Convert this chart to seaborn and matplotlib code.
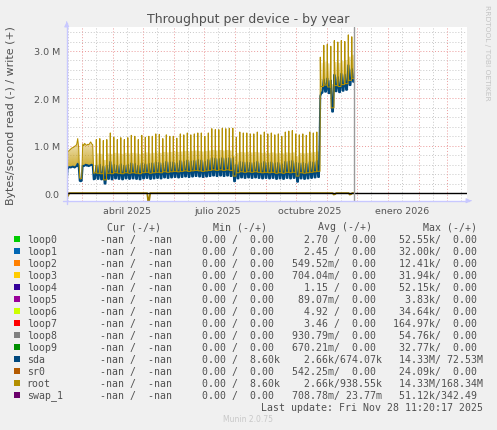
import numpy as np
import pandas as pd
import matplotlib
matplotlib.use('Agg')
import matplotlib.pyplot as plt
from matplotlib.patches import Rectangle
import seaborn as sns

W, H = 497, 431

start = pd.Timestamp('2025-02-14')
last_update = pd.Timestamp('2025-11-28 11:20:17')
n_days = 400

# write throughput (MB/s) one value per day before the twice-weekly pattern begins
root_early = [0.50, 0.87, 0.89, 0.91, 0.93, 0.95, 0.96, 0.97, 0.99, 1.00, 1.03, 1.15, 0.95, 0.32, 0.30,
              0.31, 1.04, 1.00, 1.05, 1.02, 1.01, 1.03, 1.02, 1.05, 1.08, 1.04, 1.02, 0.42, 0.43]
sda_early = [0.22, 0.55, 0.54, 0.55, 0.54, 0.55, 0.56, 0.55, 0.54, 0.56, 0.57, 0.62, 0.55, 0.26, 0.25,
             0.26, 0.58, 0.57, 0.58, 0.60, 0.58, 0.59, 0.57, 0.58, 0.59, 0.60, 0.58, 0.29, 0.30]

# twice-weekly spikes, first one on day 29.6
first_spike_day = 29.6
spike_gap_days = 3.5

root_peak = [1.13, 1.15, 1.11, 1.13, 1.27, 1.18, 1.13, 1.17, 1.13, 1.17, 1.22, 1.20, 1.13, 1.22, 1.18,
             1.20, 1.20, 1.25, 1.24,
             1.15, 1.23, 1.20, 1.20, 1.16, 1.25, 1.23, 1.27, 1.23, 1.25, 1.27, 1.27, 1.20, 1.27, 1.36,
             1.34, 1.34, 1.37, 1.36, 1.37, 1.37,
             1.18, 1.29, 1.27, 1.27, 1.25, 1.25, 1.29,
             1.23, 1.29, 1.25, 1.27, 1.23, 1.25, 1.20, 1.29, 1.31, 1.32, 1.25, 1.23, 1.25, 1.22, 1.29,
             1.27, 1.29,
             2.87, 3.12, 3.14, 3.10, 3.22, 3.19, 3.22, 3.20, 3.34, 3.30]
root_low = [0.42, 0.41, 0.28, 0.42, 0.41, 0.43, 0.42, 0.41, 0.43, 0.42, 0.43, 0.42, 0.41, 0.43, 0.44,
            0.42, 0.43, 0.44, 0.43,
            0.45, 0.44, 0.45, 0.46, 0.45, 0.46, 0.47, 0.46, 0.47, 0.48, 0.47, 0.46, 0.47, 0.48, 0.49,
            0.48, 0.49, 0.48, 0.49, 0.48, 0.36,
            0.43, 0.45, 0.44, 0.45, 0.44, 0.45, 0.44,
            0.43, 0.44, 0.43, 0.44, 0.42, 0.43, 0.42, 0.44, 0.43, 0.44, 0.36, 0.43, 0.42, 0.43, 0.44,
            0.45, 0.46,
            2.25, 2.28, 2.24, 1.80, 2.27, 2.25, 2.29, 2.31, 2.38, 2.42]
sda_peak = [0.58, 0.60, 0.56, 0.58, 0.66, 0.60, 0.58, 0.61, 0.58, 0.60, 0.63, 0.62, 0.58, 0.63, 0.61,
            0.62, 0.63, 0.65, 0.64,
            0.63, 0.66, 0.65, 0.65, 0.63, 0.68, 0.66, 0.69, 0.67, 0.68, 0.70, 0.69, 0.66, 0.70, 0.74,
            0.73, 0.72, 0.74, 0.73, 0.74, 0.74,
            0.60, 0.66, 0.65, 0.65, 0.64, 0.64, 0.66,
            0.63, 0.66, 0.64, 0.65, 0.63, 0.64, 0.61, 0.66, 0.67, 0.68, 0.64, 0.63, 0.64, 0.62, 0.66,
            0.65, 0.68,
            2.05, 2.40, 2.42, 2.38, 2.50, 2.45, 2.52, 2.50, 2.70, 2.62]
sda_low = [0.30, 0.29, 0.20, 0.30, 0.29, 0.31, 0.30, 0.29, 0.31, 0.30, 0.31, 0.30, 0.29, 0.31, 0.32,
           0.30, 0.31, 0.32, 0.31,
           0.33, 0.32, 0.33, 0.34, 0.33, 0.34, 0.35, 0.34, 0.35, 0.36, 0.35, 0.34, 0.35, 0.36, 0.37,
           0.36, 0.37, 0.36, 0.37, 0.36, 0.25,
           0.31, 0.33, 0.32, 0.33, 0.32, 0.33, 0.32,
           0.31, 0.32, 0.31, 0.32, 0.30, 0.31, 0.30, 0.32, 0.31, 0.32, 0.24, 0.31, 0.30, 0.31, 0.32,
           0.33, 0.34,
           2.12, 2.14, 2.11, 1.72, 2.15, 2.13, 2.16, 2.18, 2.28, 2.35]

# read side (drawn negative)
read_days = [0.0, 0.5, 1.5, 2.5, 80.5, 81.5, 82.5, 83.5, 266.0, 267.0, 268.5, 269.5,
             282.0, 283.0, 284.5, 285.5, 287.4]
read_vals = [-0.02, -0.08, -0.05, 0.0, 0.0, -0.17, -0.15, 0.0, 0.0, -0.03, -0.02, 0.0,
             0.0, -0.03, -0.02, 0.0, 0.0]

month_labels = ['abril 2025', 'julio 2025', 'octubre 2025', 'enero 2026']
label_months = ['2025-04-15', '2025-07-15', '2025-10-15', '2026-01-15']

names = ['loop0', 'loop1', 'loop2', 'loop3', 'loop4', 'loop5', 'loop6', 'loop7', 'loop8',
         'loop9', 'sda', 'sr0', 'root', 'swap_1']
colors = ['#00CC00', '#0066B3', '#FF8000', '#FFCC00', '#330099', '#990099', '#CCFF00', '#FF0000',
          '#808080', '#008F00', '#00487D', '#B35A00', '#B38F00', '#6B006B']
cur_col = ['  -nan /  -nan '] * 14
min_col = ['  0.00 /  0.00 '] * 10 + ['  0.00 /  8.60k', '  0.00 /  0.00 ',
                                      '  0.00 /  8.60k', '  0.00 /  0.00 ']
avg_col = ['  2.70 /  0.00 ', '  2.45 /  0.00 ', '549.52m/  0.00 ', '704.04m/  0.00 ',
           '  1.15 /  0.00 ', ' 89.07m/  0.00 ', '  4.92 /  0.00 ', '  3.46 /  0.00 ',
           '930.79m/  0.00 ', '670.21m/  0.00 ', '  2.66k/674.07k', '542.25m/  0.00 ',
           '  2.66k/938.55k', '708.78m/ 23.77m']
max_col = [' 52.55k/  0.00 ', ' 32.00k/  0.00 ', ' 12.41k/  0.00 ', ' 31.94k/  0.00 ',
           ' 52.15k/  0.00 ', '  3.83k/  0.00 ', ' 34.64k/  0.00 ', '164.97k/  0.00 ',
           ' 54.76k/  0.00 ', ' 32.77k/  0.00 ', ' 14.33M/ 72.53M', ' 24.09k/  0.00 ',
           ' 14.33M/168.34M', ' 51.12k/342.49 ']


def day_of(ts):
    return (pd.Timestamp(ts) - start) / pd.Timedelta(days=1)


end_day = day_of(last_update)


def build(early, peak, low, half):
    days = list(np.arange(len(early), dtype=float))
    vals = list(early)
    prev = early[-1]
    for k, (p, lo) in enumerate(zip(peak, low)):
        s = first_spike_day + k * spike_gap_days
        days += [s - half, s, s + half]
        vals += [prev, p, lo]
        prev = lo
    days.append(end_day)
    vals.append(prev)
    return np.array(days), np.array(vals)


t_root, v_root = build(root_early, root_peak, root_low, 0.3)
t_sda, v_sda = build(sda_early, sda_peak, sda_low, 1.3)
band = [v + (0.42 if v < 1.5 else 0.5) for v in root_low]
t_env, v_env = build(root_early, root_peak, band, 0.3)

sns.set_theme(style='white')
plt.rcParams['font.family'] = ['DejaVu Sans']

fig = plt.figure(figsize=(W / 100, H / 100), dpi=100, facecolor='#F0F0F0')


def fx(x):
    return x / W


def fy(y):
    return 1 - y / H


ax_l, ax_r, ax_t, ax_b = 66.7, 466.7, 28.3, 201.7
ax = fig.add_axes([fx(ax_l), fy(ax_b), (ax_r - ax_l) / W, (ax_b - ax_t) / H])
ax.set_facecolor('white')
for sp in ax.spines.values():
    sp.set_visible(False)

ymin, ymax = -0.16, 3.5

# grid
month_starts = pd.date_range('2025-03-01', '2026-03-01', freq='MS')
mid_months = pd.date_range('2025-02-01', '2026-03-01', freq='MS') + pd.Timedelta(days=14)
for d in mid_months:
    ax.axvline(day_of(d), color='#c8c8c8', lw=0.7, ls=(0, (1, 2)), zorder=0)
for v in np.arange(0.2, 3.5, 0.2):
    if abs(v - round(v)) > 1e-6:
        ax.axhline(v, color='#c8c8c8', lw=0.7, ls=(0, (1, 2)), zorder=0)
for d in month_starts:
    ax.axvline(day_of(d), color='#eb9a9a', lw=0.7, ls=(0, (1, 2)), zorder=0.5)
for v in [1, 2, 3]:
    ax.axhline(v, color='#eb9a9a', lw=0.7, ls=(0, (1, 2)), zorder=0.5)

# light gradient between sda and root
xs = np.unique(np.concatenate([t_sda, t_env]))
sda_f = np.interp(xs, t_sda, v_sda)
env_f = np.interp(xs, t_env, v_env)
poly = ax.fill_between(xs, sda_f, env_f, color='none', lw=0)
ny, nx = 600, 1400
yy = np.linspace(ymin, ymax, ny)
xg = np.linspace(xs[0], xs[-1], nx)
base = np.interp(xg, xs, sda_f)
rel = (yy[:, None] - base[None, :]) / 0.8
rgba = np.zeros((ny, nx, 4))
rgba[..., 0], rgba[..., 1], rgba[..., 2] = 0.78, 0.62, 0.06
rgba[..., 3] = 0.85 * np.clip(1 - rel, 0.14, 1)
im = ax.imshow(rgba, extent=[xs[0], xs[-1], ymin, ymax], origin='lower', aspect='auto',
               zorder=2, interpolation='bilinear')
im.set_clip_path(poly.get_paths()[0], transform=ax.transData)

sns.lineplot(x=t_sda, y=v_sda, ax=ax, color='#00487D', lw=1.4, estimator=None, sort=False, zorder=3)
sns.lineplot(x=t_root, y=v_root, ax=ax, color='#B38F00', lw=0.75, estimator=None, sort=False, zorder=4)
sns.lineplot(x=read_days, y=read_vals, ax=ax, color='#9c7d00', lw=1.3, estimator=None, sort=False,
             zorder=4)

ax.axhline(0, color='black', lw=1.0, zorder=5)
ax.axvline(end_day, color='#9a9a9a', lw=1.0, zorder=5)

ax.set_xlim(0, n_days)
ax.set_ylim(ymin, ymax)
ax.set_xticks([day_of(d) for d in label_months])
ax.set_xticklabels(month_labels)
ax.set_yticks([0, 1, 2, 3])
ax.set_yticklabels(['0.0', '1.0 M', '2.0 M', '3.0 M'])
ax.tick_params(axis='both', length=0, labelsize=6.8, labelcolor='#555555')
ax.tick_params(axis='x', pad=4)
ax.tick_params(axis='y', pad=5)
ax.grid(False)

# axis arrows
ax_col = '#c8c8ff'
fig.add_artist(plt.Line2D([fx(ax_l), fx(ax_l)], [fy(205), fy(24)], color=ax_col, lw=1.0))
fig.add_artist(plt.Line2D([fx(63), fx(469)], [fy(ax_b), fy(ax_b)], color=ax_col, lw=1.0))
ax.annotate('', xy=(ax_l, H - 20), xytext=(ax_l, H - 26), xycoords='figure pixels',
            arrowprops=dict(arrowstyle='-|>', color=ax_col, lw=0.8, mutation_scale=7))
ax.annotate('', xy=(474, H - ax_b), xytext=(468, H - ax_b), xycoords='figure pixels',
            arrowprops=dict(arrowstyle='-|>', color=ax_col, lw=0.8, mutation_scale=7))

txt = '#505050'
fig.text(fx(248), fy(19), 'Throughput per device - by year', ha='center', va='center',
         size=9.0, color=txt)
fig.text(fx(11), fy(116), 'Bytes/second read (-) / write (+)', ha='center', va='center',
         rotation=90, size=7.9, color=txt)
fig.text(fx(487.5), fy(53), 'RRDTOOL / TOBI OETIKER', ha='center', va='center',
         rotation=270, size=5.4, color='#c4c4c4')

# legend
mono = 'DejaVu Sans Mono'
fs = 7.15
heads = [('Cur (-/+)', 107.3), ('Min (-/+)', 212.7), ('Avg (-/+)', 318.3), ('Max (-/+)', 422.7)]
for s, x in heads:
    fig.text(fx(x), fy(227.3), s, ha='left', va='center', family=mono, size=fs, color=txt)
col_x = [88.5, 190.0, 291.5, 393.0]
for i, name in enumerate(names):
    y = 240 + 12 * i
    fig.add_artist(Rectangle((fx(14), fy(y + 3)), 6 / W, 6 / H, transform=fig.transFigure,
                             color=colors[i], lw=0))
    fig.text(fx(26.7), fy(y), name, ha='left', va='center', family=mono, size=fs, color=txt)
    for x, col in zip(col_x, [cur_col, min_col, avg_col, max_col]):
        fig.text(fx(x), fy(y), col[i], ha='left', va='center', family=mono, size=fs, color=txt)
fig.text(fx(482.7), fy(408), 'Last update: Fri Nov 28 11:20:17 2025', ha='right', va='center',
         family=mono, size=fs, color=txt)
fig.text(fx(248), fy(420), 'Munin 2.0.75', ha='center', va='center', size=5.5, color='#c8c8c8')

fig.savefig('out.png', dpi=100, facecolor=fig.get_facecolor())
